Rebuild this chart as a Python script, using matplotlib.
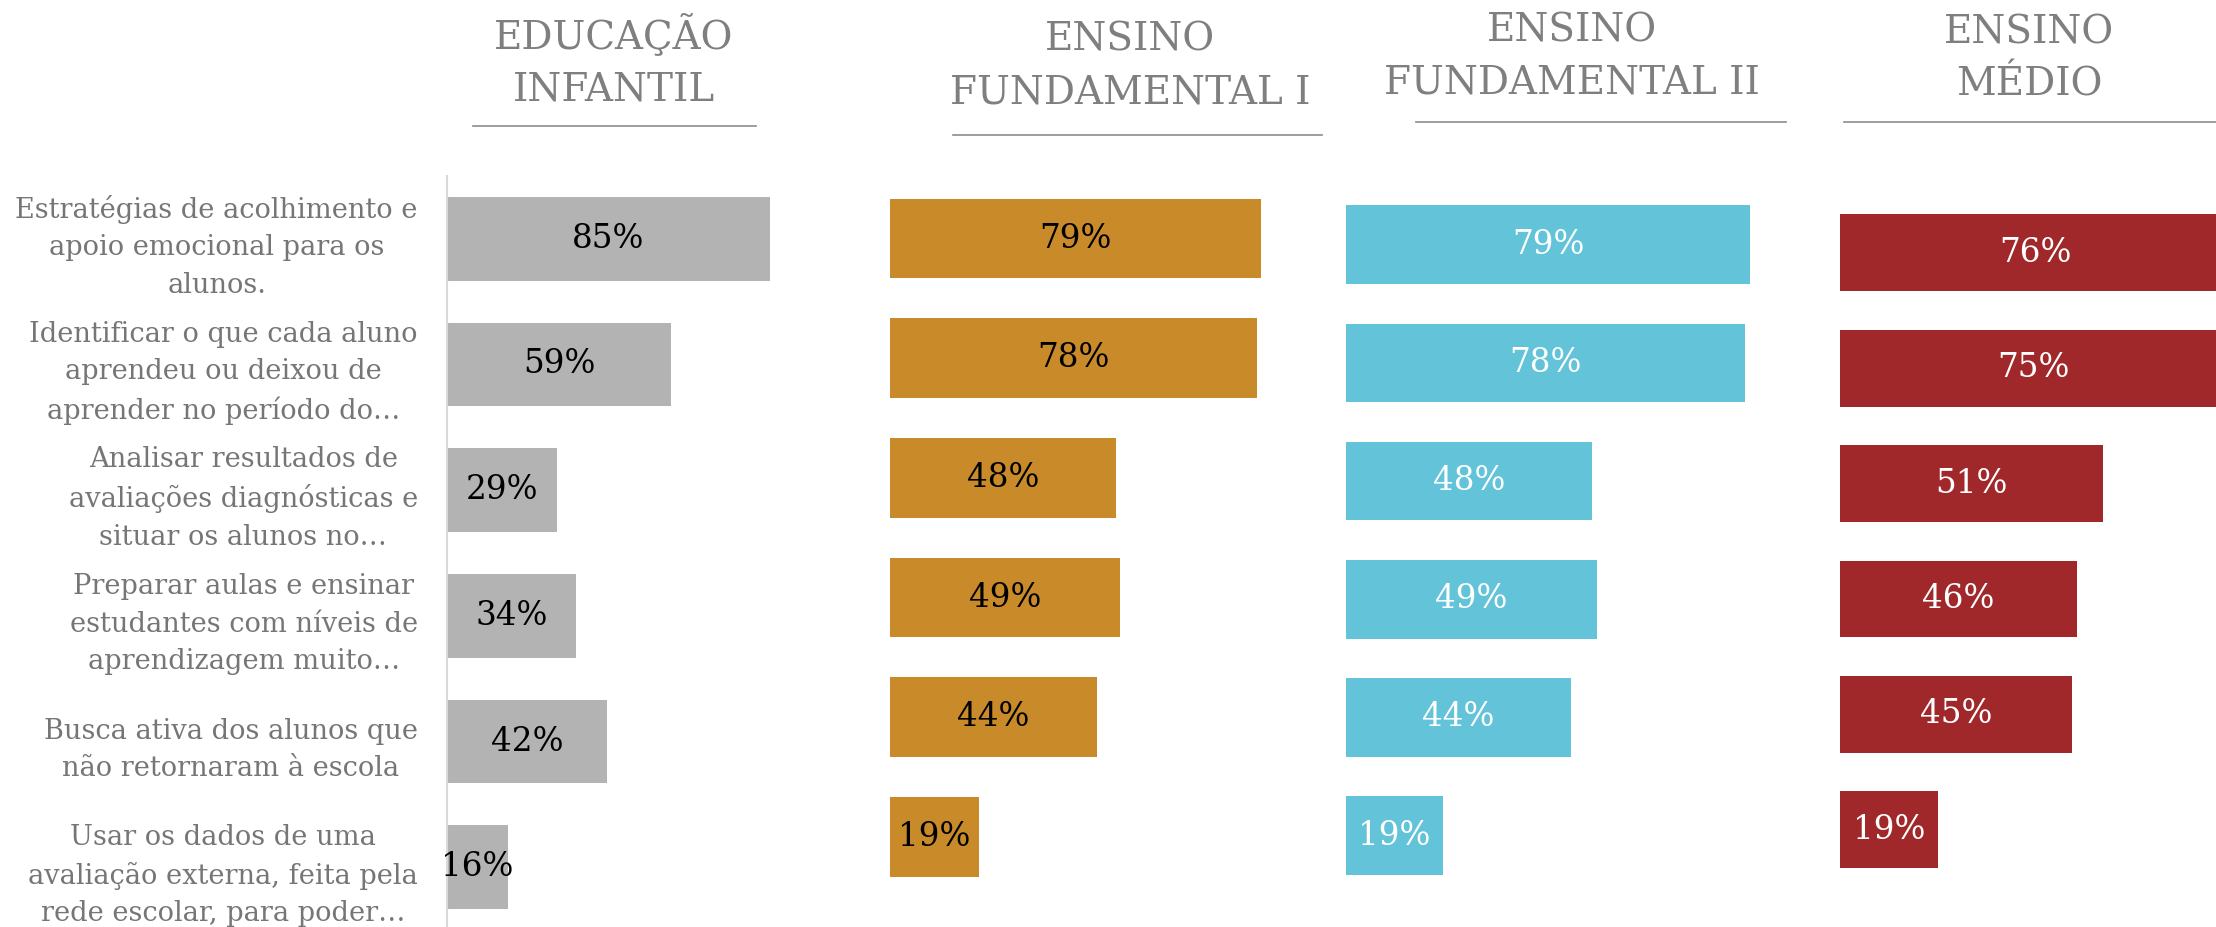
import matplotlib
matplotlib.use("Agg")
import matplotlib.pyplot as plt
from matplotlib.lines import Line2D

plt.rcParams['font.family'] = ['DejaVu Serif']

# dados
categorias = [
    "Estratégias de acolhimento e\napoio emocional para os\nalunos.",
    "Identificar o que cada aluno\naprendeu ou deixou de\naprender no período do…",
    "Analisar resultados de\navaliações diagnósticas e\nsituar os alunos no…",
    "Preparar aulas e ensinar\nestudantes com níveis de\naprendizagem muito…",
    "Busca ativa dos alunos que\nnão retornaram à escola",
    "Usar os dados de uma\navaliação externa, feita pela\nrede escolar, para poder…",
]
etapas = ["EDUCAÇÃO\nINFANTIL", "ENSINO\nFUNDAMENTAL I", "ENSINO\nFUNDAMENTAL II", "ENSINO\nMÉDIO"]
infantil = [85, 59, 29, 34, 42, 16]
fund1 = [79, 78, 48, 49, 44, 19]
fund2 = [79, 78, 48, 49, 44, 19]
medio = [76, 75, 51, 46, 45, 19]

cores = ["#B3B3B3", "#C98A29", "#62C3D9", "#A0282B"]
cor_rotulo = ["black", "black", "white", "white"]

W, H = 2216, 927
fig = plt.figure(figsize=(W / 100, H / 100), dpi=100)

# cada painel: esquerda, largura, px por ponto percentual, centro da 1a barra, passo (em px)
paineis = [
    (447, 420, 3.80, 238.7, 125.7),
    (890, 420, 4.70, 238.5, 119.7),
    (1346, 440, 5.12, 244.7, 118.2),
    (1840, 376, 5.15, 252.8, 115.4),
]
# titulo: centro x, centro y, linha (x0, x1, y)
titulos = [
    (614, 61, 473, 756, 126),
    (1130, 66.5, 953, 1322, 134.7),
    (1572, 57, 1416, 1786, 121.7),
    (2029, 59, 1844, 2216, 121.7),
]

series = [infantil, fund1, fund2, medio]
ypos = list(range(len(categorias)))

for k, (left, width, escala, c0, passo) in enumerate(paineis):
    topo = c0 - passo / 2
    altura = 6 * passo
    ax = fig.add_axes([left / W, 1 - (topo + altura) / H, width / W, altura / H])
    vals = series[k]
    ax.barh(ypos, vals, height=0.666, color=cores[k])
    ax.set_xlim(0, width / escala)
    ax.set_ylim(5.5, -0.5)
    for i, v in enumerate(vals):
        ax.text(v / 2, i, f"{v}%", ha="center", va="center",
                fontsize=23.5, color=cor_rotulo[k])
    ax.set_xticks([])
    for sp in ["top", "right", "bottom"]:
        ax.spines[sp].set_visible(False)
    if k == 0:
        ax.spines["left"].set_color("#D9D9D9")
        ax.spines["left"].set_linewidth(1.5)
        ax.set_yticks(ypos)
        ax.set_yticklabels(categorias, fontsize=19.6, color="#767676", linespacing=1.5)
        for lbl in ax.get_yticklabels():
            lbl.set_multialignment("center")
        ax.tick_params(axis="y", length=0, pad=21)
    else:
        ax.spines["left"].set_visible(False)
        ax.set_yticks([])

    cx, cy, x0, x1, ly = titulos[k]
    fig.text(cx / W, 1 - cy / H, etapas[k], ha="center", va="center",
             fontsize=28, color="#7F7F7F", linespacing=1.55,
             multialignment="center")
    fig.add_artist(Line2D([x0 / W, x1 / W], [1 - ly / H, 1 - ly / H],
                          color="#8C8C8C", linewidth=1.2))

fig.savefig("out.png", dpi=100)
